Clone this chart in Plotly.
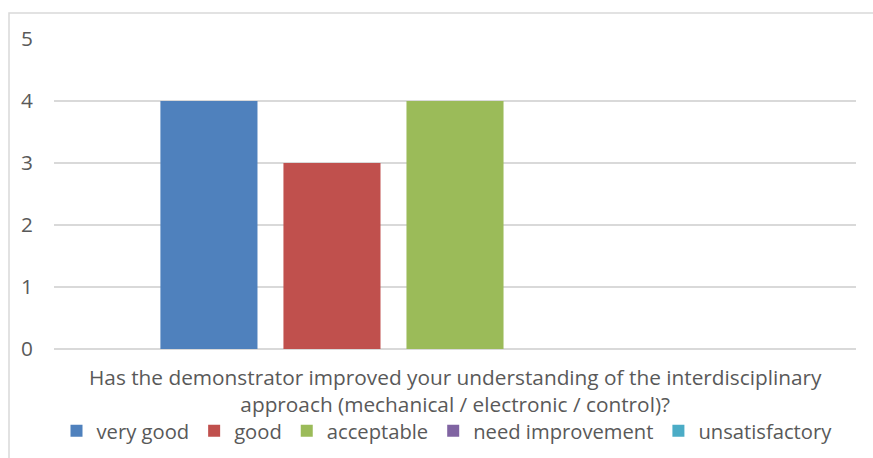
import plotly.graph_objects as go

categories = ["Has the demonstrator improved your understanding of the interdisciplinary approach (mechanical / electronic / control)?"]
category_lines = ["Has the demonstrator improved your understanding of the interdisciplinary",
                  "approach (mechanical / electronic / control)?"]
series_names = ["very good", "good", "acceptable", "need improvement", "unsatisfactory"]
series_values = [[4], [3], [4], [0], [0]]
colors = ["#4F81BD", "#C0504D", "#9BBB59", "#8064A2", "#4BACC6"]
y_ticks = [0, 1, 2, 3, 4, 5]

fig = go.Figure()
for name, vals, col in zip(series_names, series_values, colors):
    fig.add_trace(go.Bar(x=categories, y=vals, name=name, marker=dict(color=col, line=dict(width=0))))

W, H = 873, 458
L, R, T, B = 54, 17, 39, 109
pw, ph = W - L - R, H - T - B

def px_to_paper(x, y):
    return (x - L) / pw, (H - B - y) / ph

x0, y0 = px_to_paper(9, 13)
x1, y1 = px_to_paper(885, 470)

FONT = "Open Sans"
FS = 20.8

annotations = [dict(text="<br>".join(category_lines), xref="paper", yref="paper", x=0.5,
                    y=px_to_paper(0, 390)[1], xanchor="center", yanchor="middle", showarrow=False,
                    font=dict(family=FONT, size=FS, color="#595959"))]

fig.update_layout(
    width=W, height=H,
    margin=dict(l=L, r=R, t=T, b=B, autoexpand=False),
    paper_bgcolor="white", plot_bgcolor="white",
    barmode="group", bargap=0.233, bargroupgap=0.211,
    font=dict(family=FONT, size=FS, color="#595959"),
    showlegend=True,
    legend=dict(orientation="h", x=px_to_paper(447, 0)[0], xanchor="center", y=(349 - 431) / ph,
                yanchor="middle", font=dict(size=20.2, color="#595959"), itemwidth=30,
                traceorder="normal"),
    xaxis=dict(showgrid=False, showline=False, ticks="", showticklabels=False),
    yaxis=dict(range=[0, 5], tickvals=y_ticks, showgrid=True, gridcolor="#D9D9D9", gridwidth=1.5,
               zeroline=True, zerolinecolor="#D9D9D9", zerolinewidth=1.5, showline=False,
               ticks="", ticklabelstandoff=20, tickfont=dict(size=FS)),
    annotations=annotations,
    shapes=[dict(type="rect", xref="paper", yref="paper", x0=x0, y0=y1, x1=x1, y1=y0,
                 line=dict(color="#D9D9D9", width=1.5), fillcolor="rgba(0,0,0,0)", layer="below")],
)

fig.write_html("out.html", config={"displayModeBar": False},
               post_script="document.body.style.margin='0';")
